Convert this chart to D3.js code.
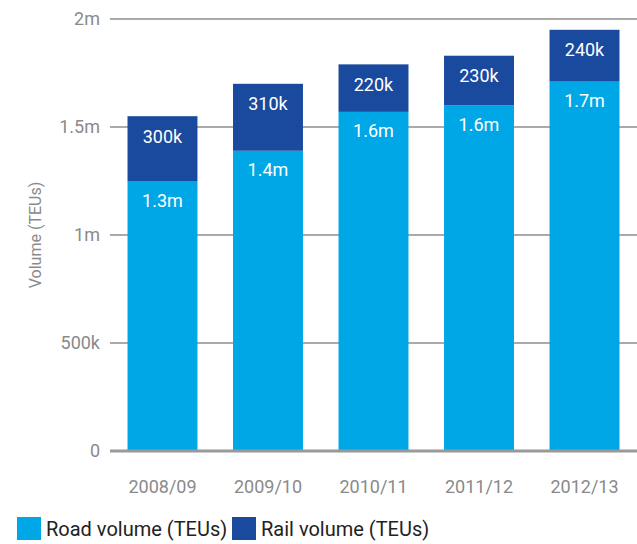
<!DOCTYPE html>
<html>
<head>
<meta charset="utf-8">
<script src="https://cdn.jsdelivr.net/npm/d3@7"></script>
<style>
  body { margin: 0; background: #fff; }
  svg { display: block; }
  text { font-family: Roboto, "DejaVu Sans Condensed", sans-serif; }
  .tick text { fill: #8a8a8a; font-size: 18px; }
  .bar-label { fill: #fff; font-size: 18px; text-anchor: middle; dominant-baseline: central; }
  .axis-title { fill: #8a8a8a; font-size: 16px; }
  .legend text { fill: #222; font-size: 20px; dominant-baseline: central; }
</style>
</head>
<body>
<svg class="chart"></svg>
<script>
//
// data
//

var years = ["2008/09", "2009/10", "2010/11", "2011/12", "2012/13"];
var road = [1250000, 1390000, 1570000, 1600000, 1710000];
var rail = [300000, 310000, 220000, 230000, 240000];
var road_labels = ["1.3m", "1.4m", "1.6m", "1.6m", "1.7m"];
var rail_labels = ["300k", "310k", "220k", "230k", "240k"];
var y_ticks = [0, 500000, 1000000, 1500000, 2000000];
var y_tick_labels = ["0", "500k", "1m", "1.5m", "2m"];

var road_color = "#00a7e6",
    rail_color = "#1a4a9d";

var width = 637, height = 544;

var svg = d3.select(".chart")
    .attr("width", width)
    .attr("height", height);

var x = d3.scaleBand()
    .domain(years)
    .range([110, 637])
    .paddingInner(0.337)
    .paddingOuter(0.166);

var y = d3.scaleLinear()
    .domain([0, 2000000])
    .range([451, 19]);

//
// grid + y axis
//

var yAxis = d3.axisLeft(y)
    .tickValues(y_ticks)
    .tickSize(0)
    .tickPadding(10)
    .tickFormat(function (d, i) { return y_tick_labels[i]; });

var yg = svg.append("g")
    .attr("transform", "translate(110,0)")
    .call(yAxis);
yg.select(".domain").remove();

svg.append("g").selectAll("line")
    .data(y_ticks.slice(1))
    .enter().append("line")
    .attr("x1", 110)
    .attr("x2", width)
    .attr("y1", function (d) { return y(d); })
    .attr("y2", function (d) { return y(d); })
    .attr("stroke", "#aaa")
    .attr("stroke-width", 2);

svg.append("text")
    .attr("class", "axis-title")
    .attr("transform", "translate(41,235) rotate(-90)")
    .attr("text-anchor", "middle")
    .text("Volume (TEUs)");

//
// bars
//

var rows = years.map(function (yr, i) {
    return { year: yr, road: road[i], rail: rail[i], rl: road_labels[i], tl: rail_labels[i] };
});

var bars = svg.append("g").selectAll("g")
    .data(rows)
    .enter().append("g");

bars.append("rect")
    .attr("x", function (d) { return x(d.year); })
    .attr("width", x.bandwidth())
    .attr("y", function (d) { return y(d.road); })
    .attr("height", function (d) { return y(0) - y(d.road); })
    .attr("fill", road_color);

bars.append("rect")
    .attr("x", function (d) { return x(d.year); })
    .attr("width", x.bandwidth())
    .attr("y", function (d) { return y(d.road + d.rail); })
    .attr("height", function (d) { return y(d.road) - y(d.road + d.rail); })
    .attr("fill", rail_color);

bars.append("text")
    .attr("class", "bar-label")
    .attr("x", function (d) { return x(d.year) + x.bandwidth() / 2; })
    .attr("y", function (d) { return y(d.road) + 19; })
    .text(function (d) { return d.rl; });

bars.append("text")
    .attr("class", "bar-label")
    .attr("x", function (d) { return x(d.year) + x.bandwidth() / 2; })
    .attr("y", function (d) { return y(d.road + d.rail) + 20; })
    .text(function (d) { return d.tl; });

// baseline
svg.append("line")
    .attr("x1", 110)
    .attr("x2", width)
    .attr("y1", y(0))
    .attr("y2", y(0))
    .attr("stroke", "#999")
    .attr("stroke-width", 3);

// x axis
var xAxis = d3.axisBottom(x).tickSize(0).tickPadding(29);
var xg = svg.append("g")
    .attr("transform", "translate(0," + y(0) + ")")
    .call(xAxis);
xg.select(".domain").remove();

//
// legend
//

var legend_items = [
    { name: "Road volume (TEUs)", color: road_color, x: 17 },
    { name: "Rail volume (TEUs)", color: rail_color, x: 232 }
];

var legend = svg.append("g")
    .attr("class", "legend")
    .selectAll("g")
    .data(legend_items)
    .enter().append("g")
    .attr("transform", function (d) { return "translate(" + d.x + ",517)"; });

legend.append("rect")
    .attr("width", 24)
    .attr("height", 23)
    .attr("fill", function (d) { return d.color; });

legend.append("text")
    .attr("x", 29)
    .attr("y", 12)
    .text(function (d) { return d.name; });
</script>
</body>
</html>
